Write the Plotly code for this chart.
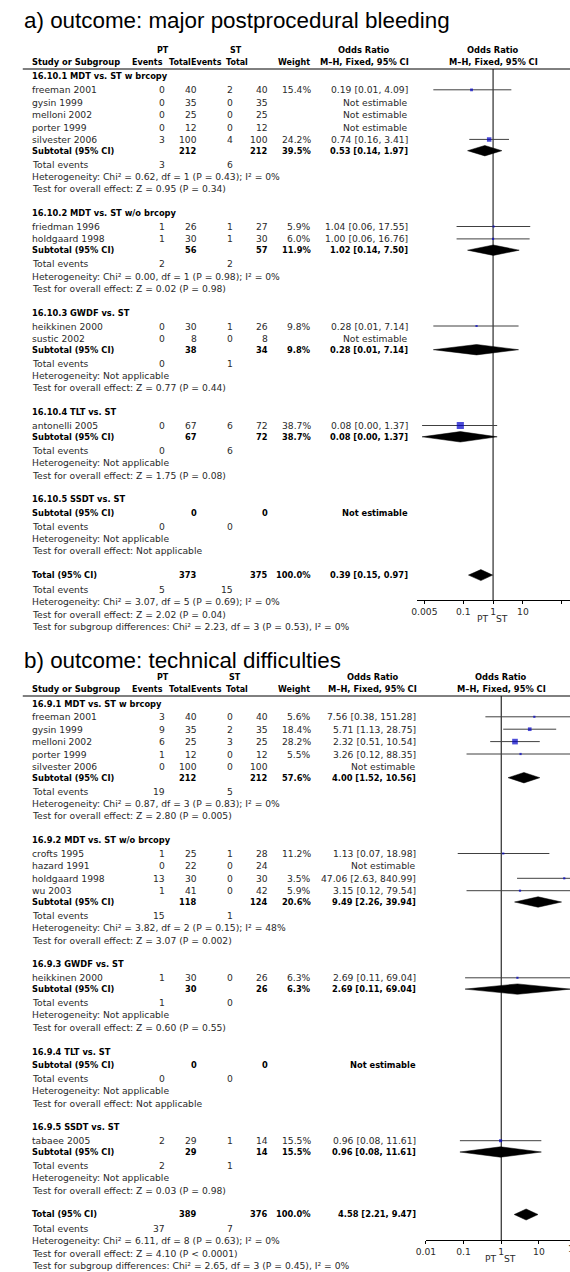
import math
import plotly.graph_objects as go

W, H = 570, 1272
FONT = "DejaVu Sans"
TITLE_FONT = "Liberation Sans"
REG = 9.2
BLD = 8.3
HDR = 8.0
GREY = "#2a2a2a"
BLUE = "#0000c8"

# ---------------- panel a data ----------------
A_TITLE = "a) outcome: major postprocedural bleeding"
A_GROUPS = ["16.10.1 MDT vs. ST w brcopy", "16.10.2 MDT vs. ST w/o brcopy",
            "16.10.3 GWDF vs. ST", "16.10.4 TLT vs. ST", "16.10.5 SSDT vs. ST"]
A_STUDIES = [["freeman 2001", "gysin 1999", "melloni 2002", "porter 1999", "silvester 2006"],
             ["friedman 1996", "holdgaard 1998"],
             ["heikkinen 2000", "sustic 2002"],
             ["antonelli 2005"],
             []]
A_PT_EVENTS = [[0, 0, 0, 0, 3], [1, 1], [0, 0], [0], []]
A_PT_TOTAL = [[40, 35, 25, 12, 100], [26, 30], [30, 8], [67], []]
A_ST_EVENTS = [[2, 0, 0, 0, 4], [1, 1], [1, 0], [6], []]
A_ST_TOTAL = [[40, 35, 25, 12, 100], [27, 30], [26, 8], [72], []]
A_WEIGHT = [[15.4, None, None, None, 24.2], [5.9, 6.0], [9.8, None], [38.7], []]
A_OR = [[0.19, None, None, None, 0.74], [1.04, 1.00], [0.28, None], [0.08], []]
A_LO = [[0.01, None, None, None, 0.16], [0.06, 0.06], [0.01, None], [0.0042], []]
A_HI = [[4.09, None, None, None, 3.41], [17.55, 16.76], [7.14, None], [1.37], []]
A_SUB_PT_TOTAL = [212, 56, 38, 67, 0]
A_SUB_ST_TOTAL = [212, 57, 34, 72, 0]
A_SUB_WEIGHT = [39.5, 11.9, 9.8, 38.7, None]
A_SUB_OR = [0.53, 1.02, 0.28, 0.08, None]
A_SUB_LO = [0.14, 0.14, 0.01, 0.0042, None]
A_SUB_HI = [1.97, 7.50, 7.14, 1.37, None]
A_SUB_PT_EVENTS = [3, 2, 0, 0, 0]
A_SUB_ST_EVENTS = [6, 2, 1, 6, 0]
A_HET = ["Chi² = 0.62, df = 1 (P = 0.43); I² = 0%", "Chi² = 0.00, df = 1 (P = 0.98); I² = 0%",
         "Not applicable", "Not applicable", "Not applicable"]
A_Z = ["Z = 0.95 (P = 0.34)", "Z = 0.02 (P = 0.98)", "Z = 0.77 (P = 0.44)",
       "Z = 1.75 (P = 0.08)", "Not applicable"]
A_TOTAL_N = [373, 375]
A_TOTAL_WEIGHT = 100.0
A_TOTAL_OR = [0.39, 0.15, 0.97]
A_TOTAL_EVENTS = [5, 15]
A_TOTAL_HET = "Chi² = 3.07, df = 5 (P = 0.69); I² = 0%"
A_TOTAL_Z = "Z = 2.02 (P = 0.04)"
A_SUBGROUP_DIFF = "Chi² = 2.23, df = 3 (P = 0.53), I² = 0%"
A_TICKS = [0.005, 0.1, 1, 10, 200]
A_TICK_LABELS = ["0.005", "0.1", "1", "10", "200"]

# ---------------- panel b data ----------------
B_TITLE = "b) outcome: technical difficulties"
B_GROUPS = ["16.9.1 MDT vs. ST w brcopy", "16.9.2 MDT vs. ST w/o brcopy",
            "16.9.3 GWDF vs. ST", "16.9.4 TLT vs. ST", "16.9.5 SSDT vs. ST"]
B_STUDIES = [["freeman 2001", "gysin 1999", "melloni 2002", "porter 1999", "silvester 2006"],
             ["crofts 1995", "hazard 1991", "holdgaard 1998", "wu 2003"],
             ["heikkinen 2000"],
             [],
             ["tabaee 2005"]]
B_PT_EVENTS = [[3, 9, 6, 1, 0], [1, 0, 13, 1], [1], [], [2]]
B_PT_TOTAL = [[40, 35, 25, 12, 100], [25, 22, 30, 41], [30], [], [29]]
B_ST_EVENTS = [[0, 2, 3, 0, 0], [1, 0, 0, 0], [0], [], [1]]
B_ST_TOTAL = [[40, 35, 25, 12, 100], [28, 24, 30, 42], [26], [], [14]]
B_WEIGHT = [[5.6, 18.4, 28.2, 5.5, None], [11.2, None, 3.5, 5.9], [6.3], [], [15.5]]
B_OR = [[7.56, 5.71, 2.32, 3.26, None], [1.13, None, 47.06, 3.15], [2.69], [], [0.96]]
B_LO = [[0.38, 1.13, 0.51, 0.12, None], [0.07, None, 2.63, 0.12], [0.11], [], [0.08]]
B_HI = [[151.28, 28.75, 10.54, 88.35, None], [18.98, None, 840.99, 79.54], [69.04], [], [11.61]]
B_SUB_PT_TOTAL = [212, 118, 30, 0, 29]
B_SUB_ST_TOTAL = [212, 124, 26, 0, 14]
B_SUB_WEIGHT = [57.6, 20.6, 6.3, None, 15.5]
B_SUB_OR = [4.00, 9.49, 2.69, None, 0.96]
B_SUB_LO = [1.52, 2.26, 0.11, None, 0.08]
B_SUB_HI = [10.56, 39.94, 69.04, None, 11.61]
B_SUB_PT_EVENTS = [19, 15, 1, 0, 2]
B_SUB_ST_EVENTS = [5, 1, 0, 0, 1]
B_HET = ["Chi² = 0.87, df = 3 (P = 0.83); I² = 0%", "Chi² = 3.82, df = 2 (P = 0.15); I² = 48%",
         "Not applicable", "Not applicable", "Not applicable"]
B_Z = ["Z = 2.80 (P = 0.005)", "Z = 3.07 (P = 0.002)", "Z = 0.60 (P = 0.55)",
       "Not applicable", "Z = 0.03 (P = 0.98)"]
B_TOTAL_N = [389, 376]
B_TOTAL_WEIGHT = 100.0
B_TOTAL_OR = [4.58, 2.21, 9.47]
B_TOTAL_EVENTS = [37, 7]
B_TOTAL_HET = "Chi² = 6.11, df = 8 (P = 0.63); I² = 0%"
B_TOTAL_Z = "Z = 4.10 (P < 0.0001)"
B_SUBGROUP_DIFF = "Chi² = 2.65, df = 3 (P = 0.45), I² = 0%"
B_TICKS = [0.01, 0.1, 1, 10, 100]
B_TICK_LABELS = ["0.01", "0.1", "1", "10", "100"]

fig = go.Figure()
ann = []
shapes = []


def txt(x, y, s, anchor="left", bold=False, size=None, color=None, family=FONT):
    ann.append(dict(
        x=x / W, y=1 - y / H, xref="paper", yref="paper",
        text=("<b>%s</b>" % s) if bold else s,
        xanchor=anchor, yanchor="middle", showarrow=False, borderpad=0,
        font=dict(family=family, size=size or (BLD if bold else REG),
                  color=color or ("#000000" if bold else GREY))))


def fmt_or(o, lo, hi):
    return "%.2f [%.2f, %.2f]" % (o, lo, hi)


def build(P, g):
    xa, ya = g["xa"], g["ya"]
    L = 21.7
    c = g["cols"]
    # title
    txt(13, g["title_y"], P["title"], size=22.4, color="#000000", family=TITLE_FONT)
    line_y = g["line_y"]
    # header
    txt(c["pt_c"], line_y - 19, "PT", "center", True, HDR)
    txt(c["st_c"], line_y - 19, "ST", "center", True, HDR)
    hy = line_y - 7
    txt(L, hy, "Study or Subgroup", "left", True)
    txt(157, hy, "Events", "right", True, HDR)
    txt(160.5, hy, "Total", "left", True, HDR)
    txt(216.7, hy, "Events", "right", True, HDR)
    txt(218.8, hy, "Total", "left", True, HDR)
    txt(306.5, hy, "Weight", "right", True, HDR)
    txt(c["or"] - 45.5, line_y - 19, "Odds Ratio", "center", True)
    txt(c["or"] - 45.5, hy, "M\u2013H, Fixed, 95% CI", "center", True)
    txt(g["one_x"], line_y - 19, "Odds Ratio", "center", True)
    txt(g["one_x"], hy, "M\u2013H, Fixed, 95% CI", "center", True)
    shapes.append(dict(type="line", xref="paper", yref="paper", x0=13 / W, x1=1,
                       y0=1 - line_y / H, y1=1 - line_y / H,
                       line=dict(color="#000000", width=1)))

    ci_x, ci_y = [], []
    sq_x, sq_y, sq_s = [], [], []
    diamonds = []
    cur = line_y + 7.5
    for gi, gname in enumerate(P["groups"]):
        txt(L, cur, gname, "left", True)
        studies = P["studies"][gi]
        n = len(studies)
        for si, sname in enumerate(studies):
            y = cur + 13.3 + si * 12.4
            txt(L, y, sname)
            txt(c["ev_pt"], y, str(P["pt_ev"][gi][si]), "right")
            txt(c["n_pt"], y, str(P["pt_n"][gi][si]), "right")
            txt(c["ev_st"], y, str(P["st_ev"][gi][si]), "right")
            txt(c["n_st"], y, str(P["st_n"][gi][si]), "right")
            w = P["w"][gi][si]
            o = P["or"][gi][si]
            if o is None:
                txt(c["or"], y, "Not estimable", "right")
            else:
                txt(c["wt"], y, "%.1f%%" % w, "right")
                txt(c["or"], y, fmt_or(o, P["lo"][gi][si], P["hi"][gi][si]), "right")
                ci_x += [P["lo"][gi][si], P["hi"][gi][si], None]
                ci_y += [y, y, None]
                sq_x.append(o)
                sq_y.append(y)
                sq_s.append(max(2.2, w * g["sq_scale"]))
        sub = cur + 13.3 + n * 12.4 - (1.1 if n else 0)
        txt(L, sub, "Subtotal (95% CI)", "left", True)
        txt(c["n_pt"], sub, str(P["sub_pt_n"][gi]), "right", True)
        txt(c["n_st"], sub, str(P["sub_st_n"][gi]), "right", True)
        so = P["sub_or"][gi]
        if so is None:
            txt(c["or"], sub, "Not estimable", "right", True)
        else:
            txt(c["wt"], sub, "%.1f%%" % P["sub_w"][gi], "right", True)
            txt(c["or"], sub, fmt_or(so, P["sub_lo"][gi], P["sub_hi"][gi]), "right", True)
            diamonds.append((P["sub_lo"][gi], so, P["sub_hi"][gi], sub, 5.2))
        te = sub + 13.6
        txt(L, te, "Total events")
        txt(c["ev_pt"], te, str(P["sub_pt_ev"][gi]), "right")
        txt(c["ev_st"], te, str(P["sub_st_ev"][gi]), "right")
        txt(L, te + 12.3, "Heterogeneity: " + P["het"][gi])
        txt(L, te + 24.6, "Test for overall effect: " + P["z"][gi])
        cur = te + 24.6 + 24.3
    # overall total
    tot = cur
    txt(L, tot, "Total (95% CI)", "left", True)
    txt(c["n_pt"], tot, str(P["tot_n"][0]), "right", True)
    txt(c["n_st"], tot, str(P["tot_n"][1]), "right", True)
    txt(c["wt"], tot, "%.1f%%" % P["tot_w"], "right", True)
    txt(c["or"], tot, fmt_or(*P["tot_or"]), "right", True)
    diamonds.append((P["tot_or"][1], P["tot_or"][0], P["tot_or"][2], tot, 5.5))
    te = tot + 14.3
    txt(L, te, "Total events")
    txt(c["ev_pt"], te, str(P["tot_ev"][0]), "right")
    txt(c["ev_st"], te, str(P["tot_ev"][1]), "right")
    txt(L, te + 12.2, "Heterogeneity: " + P["tot_het"])
    txt(L, te + 24.6, "Test for overall effect: " + P["tot_z"])
    txt(L, te + 36.8, "Test for subgroup differences: " + P["sgd"])

    # reference line at OR = 1
    fig.add_trace(go.Scatter(x=[1, 1], y=[line_y, g["axis_y"]], mode="lines",
                             line=dict(color="#000000", width=1), xaxis=xa, yaxis=ya,
                             hoverinfo="skip"))
    fig.add_trace(go.Scatter(x=ci_x, y=ci_y, mode="lines", line=dict(color="#404040", width=1),
                             xaxis=xa, yaxis=ya, hoverinfo="skip"))
    fig.add_trace(go.Scatter(x=sq_x, y=sq_y, mode="markers",
                             marker=dict(symbol="square", size=sq_s, color=BLUE, line=dict(width=0)),
                             xaxis=xa, yaxis=ya, hoverinfo="skip"))
    for lo, est, hi, y, hh in diamonds:
        fig.add_trace(go.Scatter(x=[lo, est, hi, est, lo], y=[y, y - hh, y, y + hh, y],
                                 mode="lines", fill="toself", fillcolor="#000000",
                                 line=dict(color="#000000", width=0.5),
                                 xaxis=xa, yaxis=ya, hoverinfo="skip"))
    # PT / ST under axis
    txt(g["one_x"] - 10, g["axis_y"] + 18.5, "PT", "center")
    txt(g["one_x"] + 9, g["axis_y"] + 18.5, "ST", "center")


PA = dict(title=A_TITLE, groups=A_GROUPS, studies=A_STUDIES, pt_ev=A_PT_EVENTS, pt_n=A_PT_TOTAL,
          st_ev=A_ST_EVENTS, st_n=A_ST_TOTAL, w=A_WEIGHT, **{"or": A_OR}, lo=A_LO, hi=A_HI,
          sub_pt_n=A_SUB_PT_TOTAL, sub_st_n=A_SUB_ST_TOTAL, sub_w=A_SUB_WEIGHT, sub_or=A_SUB_OR,
          sub_lo=A_SUB_LO, sub_hi=A_SUB_HI, sub_pt_ev=A_SUB_PT_EVENTS, sub_st_ev=A_SUB_ST_EVENTS,
          het=A_HET, z=A_Z, tot_n=A_TOTAL_N, tot_w=A_TOTAL_WEIGHT, tot_or=A_TOTAL_OR,
          tot_ev=A_TOTAL_EVENTS, tot_het=A_TOTAL_HET, tot_z=A_TOTAL_Z, sgd=A_SUBGROUP_DIFF)
PB = dict(title=B_TITLE, groups=B_GROUPS, studies=B_STUDIES, pt_ev=B_PT_EVENTS, pt_n=B_PT_TOTAL,
          st_ev=B_ST_EVENTS, st_n=B_ST_TOTAL, w=B_WEIGHT, **{"or": B_OR}, lo=B_LO, hi=B_HI,
          sub_pt_n=B_SUB_PT_TOTAL, sub_st_n=B_SUB_ST_TOTAL, sub_w=B_SUB_WEIGHT, sub_or=B_SUB_OR,
          sub_lo=B_SUB_LO, sub_hi=B_SUB_HI, sub_pt_ev=B_SUB_PT_EVENTS, sub_st_ev=B_SUB_ST_EVENTS,
          het=B_HET, z=B_Z, tot_n=B_TOTAL_N, tot_w=B_TOTAL_WEIGHT, tot_or=B_TOTAL_OR,
          tot_ev=B_TOTAL_EVENTS, tot_het=B_TOTAL_HET, tot_z=B_TOTAL_Z, sgd=B_SUBGROUP_DIFF)

COLS_A = dict(pt_c=155.7, st_c=230, ev_pt=158.5, n_pt=191, ev_st=228.5, n_st=264, wt=307, **{"or": 406})
COLS_B = dict(pt_c=156, st_c=229, ev_pt=158.5, n_pt=191, ev_st=228.5, n_st=264, wt=307, **{"or": 414.5})

# axis geometry (pixels)
A_DOM = (414, 570)
A_PPD = 30.4          # pixels per decade
A_ONE = 491.7
B_DOM = (423, 570)
B_PPD = 38.35
B_ONE = 500.0
A_AXIS_Y = 600
B_AXIS_Y = 1240


def rng(dom, one, ppd):
    return [(dom[0] - one) / ppd, (dom[1] - one) / ppd]


A_RANGE = rng(A_DOM, A_ONE, A_PPD)
B_RANGE = rng(B_DOM, B_ONE, B_PPD)

build(PA, dict(xa="x", ya="y", cols=COLS_A, title_y=20.5, line_y=69, axis_y=A_AXIS_Y,
               one_x=A_ONE, sq_scale=0.185))
build(PB, dict(xa="x2", ya="y2", cols=COLS_B, title_y=660.5, line_y=696, axis_y=B_AXIS_Y,
               one_x=B_ONE, sq_scale=0.2))

# partly visible "100" tick label beyond right edge of panel b
x100 = B_DOM[0] + (math.log10(B_TICKS[-1]) - B_RANGE[0]) * B_PPD
ann.append(dict(x=x100 / W, y=1 - (B_AXIS_Y + 1) / H, xref="paper", yref="paper",
                text=B_TICK_LABELS[-1], xanchor="center", yanchor="top", showarrow=False,
                font=dict(family=FONT, size=REG, color=GREY)))
shapes.append(dict(type="line", xref="paper", yref="paper", x0=x100 / W, x1=x100 / W,
                   y0=1 - (B_AXIS_Y - 3) / H, y1=1 - (B_AXIS_Y + 3) / H,
                   line=dict(color="#000000", width=1)))

axis_common = dict(type="log", showgrid=False, zeroline=False, showline=True,
                   linecolor="#000000", linewidth=1, ticks="outside", ticklen=3,
                   tickcolor="#000000", tickfont=dict(family=FONT, size=REG, color=GREY),
                   fixedrange=True)
fig.update_layout(
    width=W, height=H, margin=dict(l=0, r=0, t=0, b=0, pad=0),
    paper_bgcolor="white", plot_bgcolor="rgba(0,0,0,0)", showlegend=False,
    xaxis=dict(domain=[A_DOM[0] / W, A_DOM[1] / W], range=A_RANGE, anchor="y",
               tickvals=A_TICKS, ticktext=A_TICK_LABELS, **axis_common),
    yaxis=dict(domain=[1 - A_AXIS_Y / H, 1], range=[A_AXIS_Y, 0], visible=False, fixedrange=True),
    xaxis2=dict(domain=[B_DOM[0] / W, B_DOM[1] / W], range=B_RANGE, anchor="y2",
                tickvals=B_TICKS, ticktext=B_TICK_LABELS, **axis_common),
    yaxis2=dict(domain=[1 - B_AXIS_Y / H, 1], range=[B_AXIS_Y, 0], visible=False, fixedrange=True),
    xaxis3=dict(overlaying="x", anchor="y", range=A_RANGE, type="log", tickvals=A_TICKS,
                ticks="inside", ticklen=3, tickcolor="#000000", showticklabels=False,
                showgrid=False, zeroline=False, showline=False),
    xaxis4=dict(overlaying="x2", anchor="y2", range=B_RANGE, type="log", tickvals=B_TICKS,
                ticks="inside", ticklen=3, tickcolor="#000000", showticklabels=False,
                showgrid=False, zeroline=False, showline=False),
    annotations=ann, shapes=shapes,
)

fig.write_html("out.html", config={"displayModeBar": False, "staticPlot": True},
               post_script="document.body.style.margin='0px';document.body.style.padding='0px';")
